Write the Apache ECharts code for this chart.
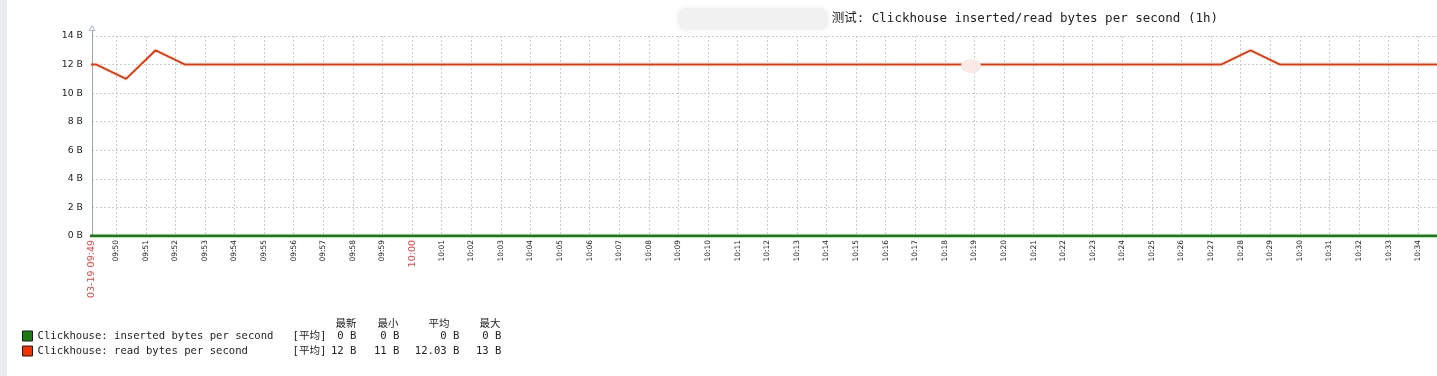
<!DOCTYPE html>
<html><head><meta charset="utf-8">
<script src="https://cdn.jsdelivr.net/npm/echarts@6/dist/echarts.min.js"></script>
<style>html,body{margin:0;padding:0;background:#fff}#c{width:1437px;height:376px}</style>
</head><body><div id="c"></div>
<script>
// ---- data ----
const titleText = '测试: Clickhouse inserted/read bytes per second (1h)';
const startLabel = '03-19 09:49';
const seriesNames = ['Clickhouse: inserted bytes per second', 'Clickhouse: read bytes per second'];
const seriesColors = ['#1a7c11', '#f63100'];
const funcLabel = '[平均]';
const statHeaders = ['最新', '最小', '平均', '最大'];
const statLatest = ['0 B', '12 B'];
const statMin = ['0 B', '11 B'];
const statAvg = ['0 B', '12.03 B'];
const statMax = ['0 B', '13 B'];
const yTicks = [0, 2, 4, 6, 8, 10, 12, 14];
// samples once per minute starting 09:48:20
const sampleStart = [2024, 2, 19, 9, 48, 20];
const viewStart = [2024, 2, 19, 9, 49, 11];
const viewEnd = [2024, 2, 19, 10, 34, 38];
const insertedBytes = [
  0,0,0,0,0,0,0,0,0,0,0,0,
  0,0,0,0,0,0,0,0,0,0,0,0,
  0,0,0,0,0,0,0,0,0,0,0,0,
  0,0,0,0,0,0,0,0,0,0,0,0];
const readBytes = [
  12,12,11,13,12,12,12,12,12,12,12,12,
  12,12,12,12,12,12,12,12,12,12,12,12,
  12,12,12,12,12,12,12,12,12,12,12,12,
  12,12,12,12,13,12,12,12,12,12,12,12];

// ---- build ----
const mk = a => new Date(a[0], a[1], a[2], a[3], a[4], a[5]).getTime();
const t0 = mk(sampleStart);
const times = readBytes.map((_, i) => t0 + i * 60000);
const pad = n => (n < 10 ? '0' : '') + n;
const grid = '#c5ced6';
const axisCol = '#9aa5af';
const font = 'DejaVu Sans';
const mono = 'DejaVu Sans Mono, Noto Sans CJK SC';
const lf = 10.6;

const chart = echarts.init(document.getElementById('c'), null, {renderer: 'canvas'});
chart.setOption({
  animation: false,
  backgroundColor: '#fff',
  grid: {left: 92, top: 36, right: 0, bottom: 140},
  xAxis: [{
    type: 'time', min: mk(viewStart), max: mk(viewEnd),
    minInterval: 60000, maxInterval: 60000, splitNumber: 50,
    axisLine: {show: true, lineStyle: {color: axisCol}},
    axisTick: {show: false},
    splitLine: {show: true, lineStyle: {color: grid, type: [2, 2], width: 1}},
    axisLabel: {
      rotate: 90, interval: 0, margin: 4, fontSize: 7.5, color: '#222', fontFamily: font,
      showMinLabel: false, showMaxLabel: false,
      formatter: v => {
        const d = new Date(v); const s = pad(d.getHours()) + ':' + pad(d.getMinutes());
        return d.getMinutes() === 0 ? '{r|' + s + '}' : s;
      },
      rich: {r: {color: '#f03c3c', fontSize: 9.5, fontFamily: font}}
    }
  }, {
    type: 'value', min: 0, max: 1, interval: 1, position: 'bottom',
    axisLine: {show: false}, axisTick: {show: false}, splitLine: {show: false},
    axisLabel: {rotate: 90, margin: 4, fontSize: 9.5, color: '#f03c3c', fontFamily: font,
      showMaxLabel: false, formatter: v => (v === 0 ? startLabel : '')}
  }],
  yAxis: {
    type: 'value', min: yTicks[0], max: yTicks[yTicks.length - 1], interval: 2,
    axisLine: {show: true, lineStyle: {color: axisCol},
      symbol: ['none', 'path://M5,0L10,8L0,8Z M5,2.2L1.8,7L8.2,7Z'], symbolSize: [7, 6], symbolOffset: [0, 8]},
    axisTick: {show: false},
    splitLine: {show: true, lineStyle: {color: grid, type: [2, 2], width: 1}},
    axisLabel: {margin: 9, fontSize: 9.3, color: '#222', fontFamily: font, formatter: '{value} B'}
  },
  legend: {
    orient: 'vertical', left: 22, top: 330.5, itemWidth: 10, itemHeight: 10, itemGap: 4,
    icon: 'rect', selectedMode: false, padding: 0,
    itemStyle: {borderColor: '#1d1d1d', borderWidth: 1},
    data: seriesNames,
    textStyle: {fontFamily: mono, fontSize: lf, color: '#222',
      rich: {
        n: {width: 255, fontFamily: mono, fontSize: lf},
        a: {width: 36, fontFamily: mono, fontSize: lf},
        v1: {width: 28, align: 'right', fontFamily: mono, fontSize: lf},
        v2: {width: 43, align: 'right', fontFamily: mono, fontSize: lf},
        v3: {width: 60, align: 'right', fontFamily: mono, fontSize: lf},
        v4: {width: 42, align: 'right', fontFamily: mono, fontSize: lf}
      }},
    formatter: name => {
      const i = seriesNames.indexOf(name);
      return '{n|' + name + '}{a|' + funcLabel + '}{v1|' + statLatest[i] + '}{v2|' + statMin[i] +
        '}{v3|' + statAvg[i] + '}{v4|' + statMax[i] + '}';
    }
  },
  graphic: [
    {type: 'rect', left: 0, top: 0, shape: {width: 7, height: 376}, style: {fill: '#e9edf0'}, silent: true},
    {type: 'line', shape: {x1: 92.5, y1: 30, x2: 92.5, y2: 36}, style: {stroke: axisCol, lineWidth: 1}, silent: true},
    {type: 'rect', shape: {x: 678, y: 8, width: 150, height: 22, r: 8}, style: {fill: '#f1f1f1', shadowBlur: 6, shadowColor: '#eeeeee'}, silent: true, z: 10},
    {type: 'text', x: 1218, y: 19, z: 9, style: {text: titleText, align: 'right', verticalAlign: 'middle', font: '12.5px ' + mono, fill: '#222'}},
    {type: 'ellipse', shape: {cx: 971, cy: 66, rx: 10, ry: 7}, style: {fill: '#fbe9e5'}, z: 20, silent: true},
    {type: 'text', x: 346, y: 323, style: {text: statHeaders[0], align: 'center', verticalAlign: 'middle', font: '10.5px Noto Sans CJK SC', fill: '#222'}},
    {type: 'text', x: 388, y: 323, style: {text: statHeaders[1], align: 'center', verticalAlign: 'middle', font: '10.5px Noto Sans CJK SC', fill: '#222'}},
    {type: 'text', x: 439, y: 323, style: {text: statHeaders[2], align: 'center', verticalAlign: 'middle', font: '10.5px Noto Sans CJK SC', fill: '#222'}},
    {type: 'text', x: 490, y: 323, style: {text: statHeaders[3], align: 'center', verticalAlign: 'middle', font: '10.5px Noto Sans CJK SC', fill: '#222'}}
  ],
  series: [
    {name: seriesNames[0], type: 'line', xAxisIndex: 0, color: seriesColors[0], symbol: 'none',
     lineStyle: {width: 3, color: seriesColors[0]}, data: times.map((t, i) => [t, insertedBytes[i]]), z: 3},
    {name: seriesNames[1], type: 'line', xAxisIndex: 0, color: seriesColors[1], symbol: 'none',
     lineStyle: {width: 2, color: seriesColors[1]}, data: times.map((t, i) => [t, readBytes[i]]), z: 2}
  ]
});
</script></body></html>
